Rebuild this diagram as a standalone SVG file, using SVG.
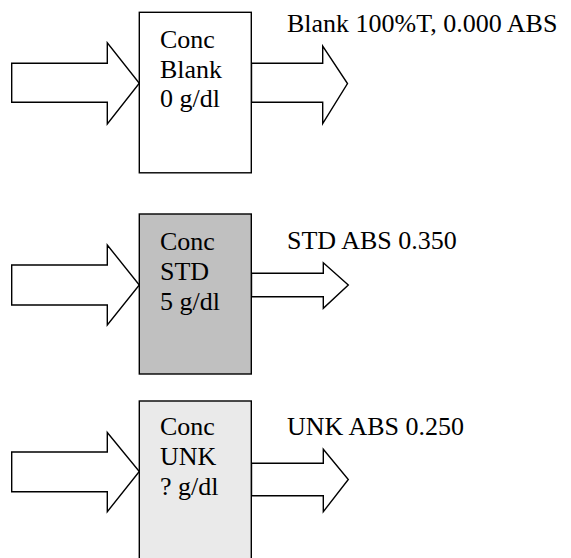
<svg xmlns="http://www.w3.org/2000/svg" width="571" height="558" viewBox="0 0 571 558">
<style>
.bx{stroke:#000;stroke-width:1.4}
.ar{fill:#fff;stroke:#000;stroke-width:1.4;stroke-linejoin:miter}
text{font-family:"Liberation Serif","Times New Roman",serif;font-size:26px;fill:#000}
</style>
<rect width="571" height="558" fill="#fff"/>
<g id="connectors">
<polygon class="ar" points="11.7,63.3 107.3,63.3 107.3,42.7 139.3,83.3 107.3,124 107.3,102.3 11.7,102.3"/>
<polygon class="ar" points="251.5,63.3 322.7,63.3 322.7,46 347.5,83.5 322.7,123.5 322.7,102.3 251.5,102.3"/>
<polygon class="ar" points="11.7,265 107.3,265 107.3,245 139.3,285 107.3,325 107.3,305 11.7,305"/>
<polygon class="ar" points="251.5,273.3 323.3,273.3 323.3,262.7 348.3,285 323.3,308.3 323.3,296.7 251.5,296.7"/>
<polygon class="ar" points="11.7,452 107.3,452 107.3,432.5 139.3,471.5 107.3,511.7 107.3,491.7 11.7,491.7"/>
<polygon class="ar" points="251.5,463.3 323.3,463.3 323.3,449.3 348.3,479.5 323.3,511.7 323.3,495.7 251.5,495.7"/>
</g>
<g id="node-blank">
<rect class="bx" x="139.3" y="12.3" width="112" height="160.5" fill="#fff"/>
<text x="160" y="48">Conc</text>
<text x="160" y="78">Blank</text>
<text x="160" y="107">0 g/dl</text>
</g>
<g id="node-std">
<rect class="bx" x="139.3" y="214" width="112" height="160" fill="#c0c0c0"/>
<text x="160" y="250">Conc</text>
<text x="160" y="280">STD</text>
<text x="160" y="310">5 g/dl</text>
</g>
<g id="node-unk">
<rect class="bx" x="139.3" y="401" width="112" height="170" fill="#eaeaea"/>
<text x="160" y="435">Conc</text>
<text x="160" y="465">UNK</text>
<text x="160" y="495">? g/dl</text>
</g>
<g id="labels">
<text x="287" y="32">Blank 100%T, 0.000 ABS</text>
<text x="287" y="248.5">STD ABS 0.350</text>
<text x="287" y="435">UNK ABS 0.250</text>
</g>
</svg>
